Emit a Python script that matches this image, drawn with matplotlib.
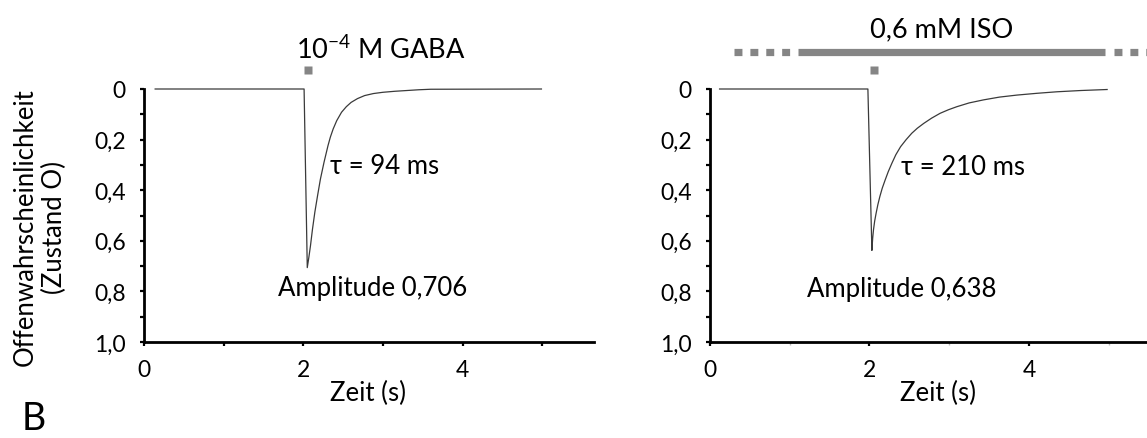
import matplotlib
matplotlib.use("Agg")
import matplotlib.pyplot as plt
from matplotlib.ticker import FixedLocator, FuncFormatter

plt.rcParams['font.family'] = ['Lato', 'DejaVu Sans']
plt.rcParams['mathtext.fontset'] = 'custom'
plt.rcParams['mathtext.rm'] = 'Lato'

# ---------------- data ----------------
# GABA alone: time (s) and open probability (axis inverted)
t_gaba = [0.14, 2.01, 2.05, 2.07, 2.09, 2.115, 2.145, 2.18, 2.215, 2.26,
          2.31, 2.34, 2.375, 2.42, 2.48, 2.54, 2.60, 2.68, 2.77, 2.88,
          3.00, 3.15, 3.30, 3.45, 3.60, 4.99]
p_gaba = [0.0, 0.0, 0.706, 0.665, 0.62, 0.555, 0.487, 0.42, 0.356, 0.29,
          0.224, 0.19, 0.158, 0.125, 0.092, 0.07, 0.053, 0.038, 0.026, 0.018,
          0.013, 0.009, 0.006, 0.003, 0.001, 0.0]

# GABA + ISO
t_iso = [0.12, 1.98, 2.03, 2.04, 2.05, 2.065, 2.083, 2.105, 2.13, 2.16,
         2.196, 2.235, 2.28, 2.33, 2.39, 2.46, 2.53, 2.60, 2.68, 2.78,
         2.886, 2.99, 3.095, 3.25, 3.43, 3.63, 3.85, 4.10, 4.35, 4.65, 4.98]
p_iso = [0.0, 0.0, 0.638, 0.59, 0.557, 0.522, 0.491, 0.457, 0.425, 0.392,
         0.36, 0.327, 0.294, 0.26, 0.228, 0.20, 0.175, 0.155, 0.136, 0.115,
         0.096, 0.082, 0.07, 0.055, 0.043, 0.032, 0.024, 0.017, 0.011, 0.006,
         0.002]

gaba_pulse_t = 2.06
iso_dotted = [(0.30, 1.02), (5.06, 5.60)]
iso_solid = (1.10, 4.95)

x_major = [0, 2, 4]
x_minor = [1, 3, 5]
y_ticks = [0, 0.1, 0.2, 0.3, 0.4, 0.5, 0.6, 0.7, 0.8, 0.9, 1.0]
y_labels = {0: "0", 0.2: "0,2", 0.4: "0,4", 0.6: "0,6", 0.8: "0,8", 1.0: "1,0"}

left_title = "10$^{\\mathrm{-4}}$ M GABA"
right_title = "0,6 mM ISO"
left_tau = "τ = 94 ms"
right_tau = "τ = 210 ms"
left_amp = "Amplitude 0,706"
right_amp = "Amplitude 0,638"
ylab = "Offenwahrscheinlichkeit\n(Zustand O)"
xlab = "Zeit (s)"

# ---------------- figure ----------------
W, H = 1147, 439
fig = plt.figure(figsize=(W / 100, H / 100), dpi=100)

def fx(px):
    return px / W

def fy(py):
    return 1 - py / H

bot, top = fy(343), fy(90)
axL = fig.add_axes([fx(144), bot, fx(594) - fx(144), top - bot])
axR = fig.add_axes([fx(710), bot, 1.0 - fx(710), top - bot])

gray = '#858585'
TS = 16.5
FS = 18.5

def yfmt(v, pos):
    for k, s in y_labels.items():
        if abs(v - k) < 1e-6:
            return s
    return ""

for ax, xmax in ((axL, 5.65), (axR, 5.48)):
    ax.set_xlim(0, xmax)
    ax.set_ylim(1.0, 0.0)
    for s in ('top', 'right'):
        ax.spines[s].set_visible(False)
    for s in ('left', 'bottom'):
        ax.spines[s].set_linewidth(2.0)
        ax.spines[s].set_color('black')
    ax.xaxis.set_major_locator(FixedLocator(x_major))
    ax.xaxis.set_minor_locator(FixedLocator(x_minor))
    ax.yaxis.set_major_locator(FixedLocator(y_ticks))
    ax.yaxis.set_major_formatter(FuncFormatter(yfmt))
    ax.tick_params(axis='both', which='major', direction='out', length=3,
                   width=1.6, labelsize=TS, color='black')
    ax.tick_params(axis='x', which='major', pad=9)
    ax.tick_params(axis='y', which='major', pad=10)
    ax.set_facecolor('none')

axL.tick_params(axis='x', which='minor', direction='out', length=3, width=1.6,
                color='black')
axR.tick_params(axis='x', which='minor', direction='out', length=2, width=1.0,
                color='#bbbbbb')

# curves
axL.plot(t_gaba, p_gaba, color='#3a3a3a', lw=0.9, clip_on=False)
axR.plot(t_iso, p_iso, color='#3a3a3a', lw=0.9, clip_on=False)

# GABA pulse markers
for ax in (axL, axR):
    ax.plot([gaba_pulse_t], [-0.075], marker='s', ms=5.2, color=gray,
            mec='none', clip_on=False)

# ISO bar
for a, b in iso_dotted:
    axR.plot([a, b], [-0.146, -0.146], color=gray, lw=5.2, clip_on=False,
             dashes=(1.1, 1.1), solid_capstyle='butt', dash_capstyle='butt')
axR.plot(list(iso_solid), [-0.146, -0.146], color=gray, lw=5.2,
         clip_on=False, solid_capstyle='butt')

# texts
axL.text(2.97, -0.158, left_title, ha='center', va='center', fontsize=19.5)
axR.text(2.90, -0.237, right_title, ha='center', va='center', fontsize=19.5)
axL.text(2.33, 0.304, left_tau, ha='left', va='center', fontsize=FS)
axR.text(2.40, 0.308, right_tau, ha='left', va='center', fontsize=FS)
axL.text(2.87, 0.783, left_amp, ha='center', va='center', fontsize=FS)
axR.text(2.40, 0.787, right_amp, ha='center', va='center', fontsize=FS)
axL.text(2.81, 1.0 + 50 / 253, xlab, ha='center', va='center', fontsize=FS)
axR.text(2.86, 1.0 + 50 / 253, xlab, ha='center', va='center', fontsize=FS)

fig.text(fx(40), fy(227), ylab, rotation=90, ha='center', va='center',
         fontsize=FS, linespacing=1.2, multialignment='center')
fig.text(fx(34), fy(419), "B", ha='center', va='center', fontsize=27)

fig.savefig("out.png", dpi=100)
